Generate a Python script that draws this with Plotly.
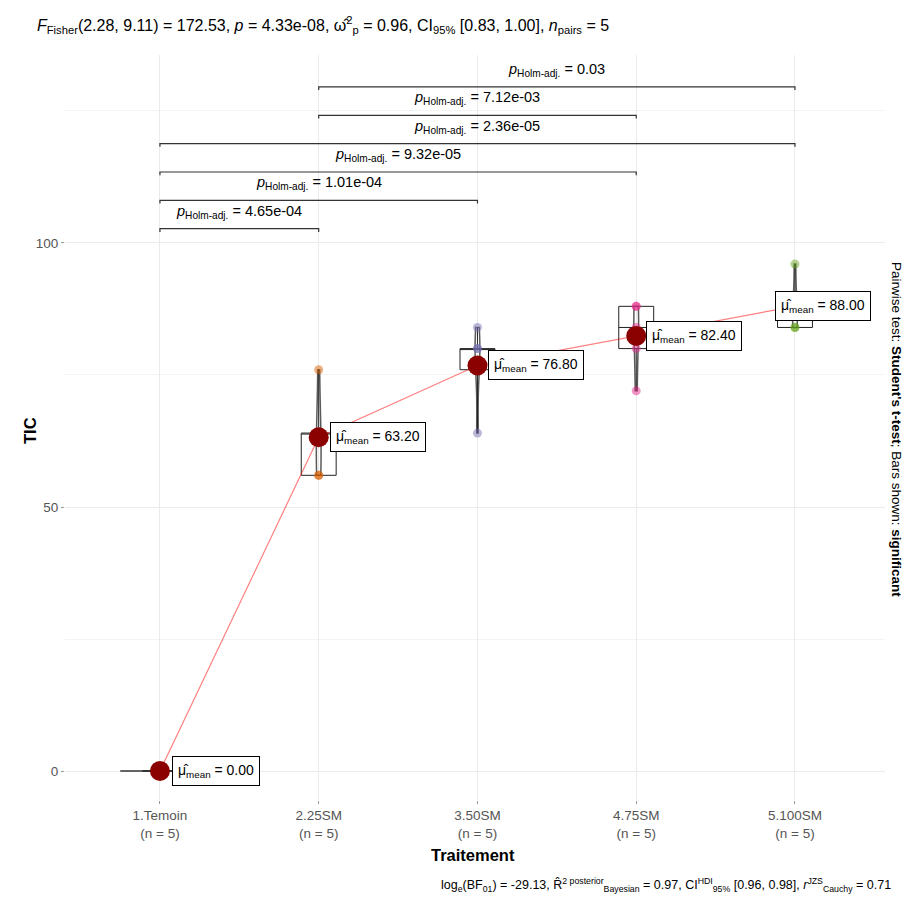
import numpy as np
import plotly.graph_objects as go

# ---------------- data ----------------
categories = ["1.Temoin", "2.25SM", "3.50SM", "4.75SM", "5.100SM"]
n_text = ["(n = 5)", "(n = 5)", "(n = 5)", "(n = 5)", "(n = 5)"]
tic_temoin = [0, 0, 0, 0, 0]
tic_25sm = [56, 56, 64, 64, 76]
tic_50sm = [64, 76, 80, 80, 84]
tic_75sm = [72, 80, 84, 88, 88]
tic_100sm = [84, 84, 88, 88, 96]
groups = [tic_temoin, tic_25sm, tic_50sm, tic_75sm, tic_100sm]

comp_group1 = ["1.Temoin", "1.Temoin", "1.Temoin", "1.Temoin", "2.25SM", "2.25SM"]
comp_group2 = ["2.25SM", "3.50SM", "4.75SM", "5.100SM", "4.75SM", "5.100SM"]
comp_p = ["4.65e-04", "1.01e-04", "9.32e-05", "2.36e-05", "7.12e-03", "0.03"]

title_text = ("<i>F</i><sub>Fisher</sub>(2.28, 9.11) = 172.53, <i>p</i> = 4.33e-08, "
              "ω̂<sup>2</sup><sub>p</sub> = 0.96, CI<sub>95%</sub> [0.83, 1.00], "
              "<i>n</i><sub>pairs</sub> = 5")
caption_text = ("log<sub>e</sub>(BF<sub>01</sub>) = -29.13, "
                "R̂<sup>2 posterior</sup><sub>Bayesian</sub> = 0.97, "
                "CI<sup>HDI</sup><sub>95%</sub> [0.96, 0.98], "
                "<i>r</i><sup>JZS</sup><sub>Cauchy</sub> = 0.71")
side_text = "Pairwise test: <b>Student's t-test</b>; Bars shown: <b>significant</b>"

# ---------------- style ----------------
group_colors = ["rgba(27,158,119,0.5)", "rgba(217,95,2,0.5)", "rgba(117,112,179,0.5)",
                "rgba(231,41,138,0.5)", "rgba(102,166,30,0.5)"]
FONT = "Liberation Sans, Arial, sans-serif"
label_xshift = [12, 11, 11, 10, -20]

fig = go.Figure()
xs = list(range(len(categories)))
means = [float(np.mean(g)) for g in groups]

# violins (narrow) and flat line for constant group
for i, g in enumerate(groups):
    if np.std(g) > 0:
        fig.add_trace(go.Violin(x=[i] * len(g), y=g, width=0.03, spanmode="hard",
                                line=dict(color="rgba(60,60,60,0.85)", width=1.5),
                                fillcolor="rgba(0,0,0,0)", points=False,
                                hoverinfo="skip", showlegend=False))
    else:
        fig.add_trace(go.Scatter(x=[i - 0.25, i + 0.25], y=[g[0], g[0]], mode="lines",
                                 line=dict(color="#333333", width=1.5),
                                 hoverinfo="skip", showlegend=False))

# boxes
for i, g in enumerate(groups):
    fig.add_trace(go.Box(x=[i] * len(g), y=g, width=0.22, boxpoints=False,
                         quartilemethod="inclusive", whiskerwidth=0,
                         fillcolor="rgba(255,255,255,0)",
                         line=dict(color="#222222", width=1),
                         hoverinfo="skip", showlegend=False))

# raw points
for i, g in enumerate(groups):
    fig.add_trace(go.Scatter(x=[i] * len(g), y=g, mode="markers",
                             marker=dict(size=9, color=group_colors[i], line=dict(width=0)),
                             hoverinfo="skip", showlegend=False))

# centrality path and points
fig.add_trace(go.Scatter(x=xs, y=means, mode="lines",
                         line=dict(color="rgba(255,0,0,0.5)", width=1.2),
                         hoverinfo="skip", showlegend=False))
fig.add_trace(go.Scatter(x=xs, y=means, mode="markers",
                         marker=dict(size=20, color="#8B0000"),
                         hoverinfo="skip", showlegend=False))

annotations = []
for i, m in enumerate(means):
    annotations.append(dict(x=i, y=m, xref="x", yref="y", xanchor="left", yanchor="middle",
                            xshift=label_xshift[i], showarrow=False,
                            text="μ̂<sub>mean</sub> = %.2f" % m,
                            font=dict(family=FONT, size=14, color="black"),
                            bgcolor="white", bordercolor="black", borderwidth=1, borderpad=5))

# significance brackets
shapes = []
bracket_start, bracket_step, tip = 102.7, 5.37, 0.6
for k, (a, b, p) in enumerate(zip(comp_group1, comp_group2, comp_p)):
    x1, x2 = categories.index(a), categories.index(b)
    yb = bracket_start + bracket_step * k
    shapes.append(dict(type="path", xref="x", yref="y",
                       path="M %f,%f L %f,%f L %f,%f L %f,%f" % (x1, yb - tip, x1, yb, x2, yb, x2, yb - tip),
                       line=dict(color="#333333", width=1.2)))
    annotations.append(dict(x=(x1 + x2) / 2, y=yb, xref="x", yref="y", yanchor="middle",
                            yshift=17, showarrow=False,
                            text="<i>p</i><sub>Holm-adj.</sub> = " + p,
                            font=dict(family=FONT, size=14.5, color="black")))

# titles and captions
annotations += [
    dict(x=-0.0366, y=1.0403, xref="paper", yref="paper", xanchor="left", yanchor="middle",
         showarrow=False, text=title_text, font=dict(family=FONT, size=16, color="black")),
    dict(x=1.0098, y=-0.1141, xref="paper", yref="paper", xanchor="right", yanchor="middle",
         showarrow=False, text=caption_text, font=dict(family=FONT, size=12.5, color="black")),
    dict(x=1.0146, y=0.4966, xref="paper", yref="paper", xanchor="center", yanchor="middle",
         textangle=90, showarrow=False, text=side_text,
         font=dict(family=FONT, size=13.5, color="black")),
    dict(x=-0.0427, y=0.4966, xref="paper", yref="paper", xanchor="center", yanchor="middle",
         textangle=-90, showarrow=False, text="<b>TIC</b>",
         font=dict(family=FONT, size=16.5, color="black")),
    dict(x=0.498, y=-0.0738, xref="paper", yref="paper", xanchor="center", yanchor="middle",
         showarrow=False, text="<b>Traitement</b>",
         font=dict(family=FONT, size=16.5, color="black")),
]

fig.update_layout(
    width=907, height=899,
    margin=dict(l=65, r=22, t=55, b=99),
    paper_bgcolor="white", plot_bgcolor="white",
    showlegend=False, boxmode="overlay", violinmode="overlay",
    font=dict(family=FONT),
    xaxis=dict(range=[-0.598, 4.567], tickvals=xs,
               ticktext=[c + "<br>" + n for c, n in zip(categories, n_text)],
               showgrid=True, gridcolor="#EBEBEB", gridwidth=1, zeroline=False,
               ticks="outside", ticklen=3, tickcolor="#999999",
               tickfont=dict(family=FONT, size=13.5, color="#555555"), showline=False),
    yaxis=dict(range=[-5.49, 135.6], tickvals=[0, 50, 100],
               showgrid=True, gridcolor="#EBEBEB", gridwidth=1, zeroline=False,
               ticks="outside", ticklen=3, tickcolor="#999999",
               minor=dict(tickvals=[25, 75, 125], showgrid=True, gridcolor="#F3F3F3", ticks=""),
               tickfont=dict(family=FONT, size=13.5, color="#555555"), showline=False),
    shapes=shapes, annotations=annotations,
)

fig.write_html("out.html")
